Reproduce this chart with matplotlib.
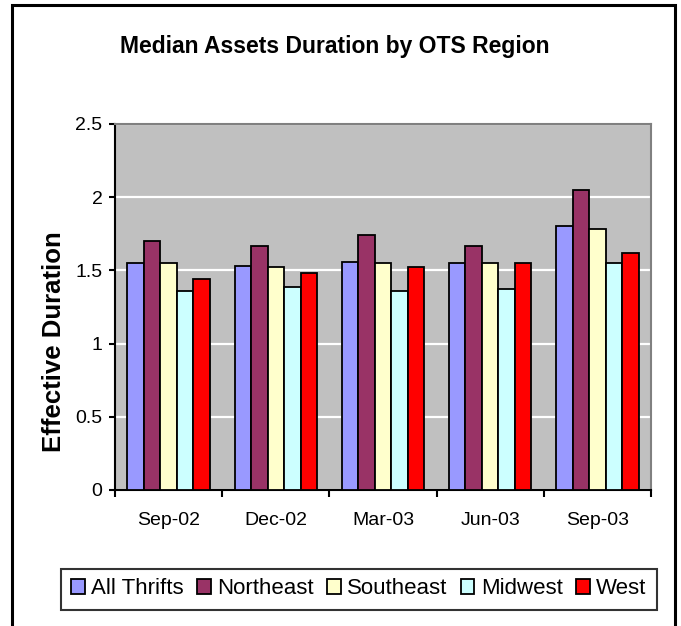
import numpy as np
import matplotlib
matplotlib.use("Agg")
import matplotlib.pyplot as plt
from matplotlib.patches import Rectangle

plt.rcParams['font.family'] = ['Liberation Sans', 'DejaVu Sans']

periods = ["Sep-02", "Dec-02", "Mar-03", "Jun-03", "Sep-03"]
all_thrifts = [1.55, 1.53, 1.56, 1.55, 1.80]
northeast = [1.70, 1.67, 1.74, 1.67, 2.05]
southeast = [1.55, 1.52, 1.55, 1.55, 1.78]
midwest = [1.36, 1.39, 1.36, 1.37, 1.55]
west = [1.44, 1.48, 1.52, 1.55, 1.62]

series_names = ["All Thrifts", "Northeast", "Southeast", "Midwest", "West"]
series_vals = [all_thrifts, northeast, southeast, midwest, west]
colors = ["#9999FF", "#993366", "#FFFFCC", "#CCFFFF", "#FF0000"]

W, H = 681, 626
fig = plt.figure(figsize=(W / 100, H / 100), dpi=100)

# outer chart border
fig.patches.append(Rectangle((12 / W, -0.05), (675 - 12) / W, 1.05 - 5 / H,
                             transform=fig.transFigure, fill=False,
                             edgecolor="black", linewidth=2.2))

ax = fig.add_axes([115 / W, 1 - 490 / H, (651 - 115) / W, (490 - 124) / H])
ax.set_facecolor("#C0C0C0")

x = np.arange(len(periods))
n = len(series_names)
bw = 1 / (n + 1.5)
for i, (name, vals, c) in enumerate(zip(series_names, series_vals, colors)):
    ax.bar(x + (i - (n - 1) / 2) * bw, vals, width=bw, color=c,
           edgecolor="black", linewidth=1.3, label=name, zorder=3)

ax.set_xlim(-0.5, len(periods) - 0.5)
ax.set_ylim(0, 2.5)
ax.set_yticks([0, 0.5, 1, 1.5, 2, 2.5])
ax.set_yticklabels(["0", "0.5", "1", "1.5", "2", "2.5"])
ax.yaxis.grid(True, color="white", linewidth=1.6, zorder=1)
ax.set_axisbelow(True)

ax.set_xticks(x)
ax.set_xticklabels(periods)
ax.set_xticks(np.arange(len(periods) + 1) - 0.5, minor=True)
ax.tick_params(axis="x", which="major", length=0, pad=16, labelsize=14)
ax.tick_params(axis="x", which="minor", length=5, width=1.5, direction="out")
ax.tick_params(axis="y", length=4, width=1.5, pad=5, labelsize=14)

for s in ["left", "bottom"]:
    ax.spines[s].set_color("black")
    ax.spines[s].set_linewidth(1.5)
for s in ["top", "right"]:
    ax.spines[s].set_color("#808080")
    ax.spines[s].set_linewidth(1.5)

fig.text(335 / W, 1 - 47 / H, "Median Assets Duration by OTS Region",
         ha="center", va="center", fontsize=16.5, fontweight="bold")
fig.text(54 / W, 1 - 342 / H, "Effective Duration", rotation=90,
         ha="center", va="center", fontsize=18.5, fontweight="bold")

leg = fig.legend(loc="center", bbox_to_anchor=(359 / W, 1 - 589 / H), ncol=5,
                 fontsize=16, frameon=True, fancybox=False, shadow=False,
                 handlelength=0.6, handleheight=0.65, handletextpad=0.3,
                 columnspacing=0.6, borderpad=0.45, borderaxespad=0)
leg.get_frame().set_edgecolor("black")
leg.get_frame().set_linewidth(1.5)

fig.savefig("out.png", dpi=100)
